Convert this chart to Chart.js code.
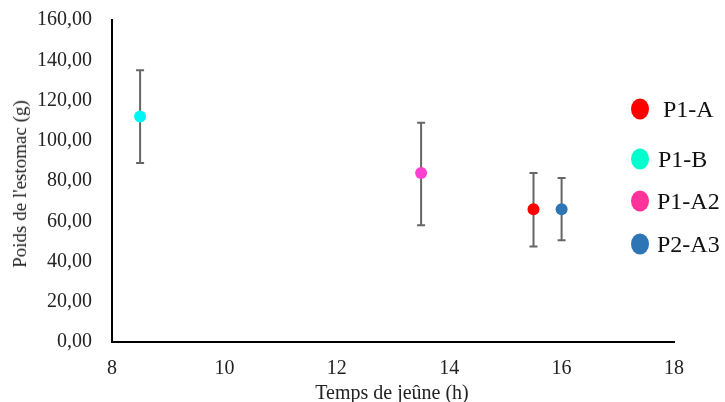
<!DOCTYPE html>
<html>
<head>
<meta charset="utf-8">
<script src="https://cdn.jsdelivr.net/npm/chart.js@4.4.1/dist/chart.umd.min.js"></script>
<style>
  html, body { margin: 0; padding: 0; background: #fff; }
  #wrap { position: relative; width: 725px; height: 402px; }
  .axtitle { position: absolute; font-family: "Liberation Serif", serif; color: #222; white-space: nowrap; }
</style>
</head>
<body>
<div id="wrap">
  <canvas id="c" width="725" height="402"></canvas>
  <div class="axtitle" id="ytitle" style="font-size:19px; left:20px; top:184px; transform: translate(-50%, -50%) rotate(-90deg);">Poids de l'estomac (g)</div>
  <div class="axtitle" id="xtitle" style="font-size:20px; left:392px; top:392px; transform: translate(-50%, -50%);">Temps de jeûne (h)</div>
</div>
<script>
// Données
const series = ["P1-A", "P1-B", "P1-A2", "P2-A3"];
const fastingHours = [15.5, 8.5, 13.5, 16];
const stomachWeight = [66, 112, 84, 66];
const errLow = [47.5, 89, 58, 50.5];
const errHigh = [84, 135, 109, 81.5];

const pointColors = ["#ff0000", "#00f5f5", "#ff3fd0", "#2e75b6"];
const legendColors = ["#ff0000", "#00ffcc", "#ff3399", "#2e75b6"];

Chart.defaults.font.family = "'Liberation Serif', serif";
Chart.defaults.color = "#222";

// Barres d'erreur, dessinées sous les points
const errorBars = {
    id: "errorBars",
    beforeDatasetsDraw(chart) {
        const { ctx, scales: { x, y } } = chart;
        ctx.save();
        ctx.strokeStyle = "#666";
        ctx.lineWidth = 2;
        series.forEach((s, i) => {
            const px = x.getPixelForValue(fastingHours[i]);
            const top = y.getPixelForValue(errHigh[i]);
            const bot = y.getPixelForValue(errLow[i]);
            ctx.beginPath();
            ctx.moveTo(px, top);
            ctx.lineTo(px, bot);
            ctx.moveTo(px - 4, top);
            ctx.lineTo(px + 4, top);
            ctx.moveTo(px - 4, bot);
            ctx.lineTo(px + 4, bot);
            ctx.stroke();
        });
        ctx.restore();
    },
};

// Légende à droite avec des marqueurs ovales
const sideLegend = {
    id: "sideLegend",
    afterDraw(chart) {
        const ctx = chart.ctx;
        const rows = [109, 159, 201, 244];
        const textX = [663, 658, 657, 657];
        ctx.save();
        ctx.font = "24px 'Liberation Serif', serif";
        ctx.textBaseline = "middle";
        series.forEach((s, i) => {
            ctx.fillStyle = legendColors[i];
            ctx.beginPath();
            ctx.ellipse(640, rows[i], 9, 10.5, 0, 0, Math.PI * 2);
            ctx.fill();
            ctx.fillStyle = "#111";
            ctx.fillText(s, textX[i], rows[i] + 2);
        });
        ctx.restore();
    },
};

new Chart(document.getElementById("c").getContext("2d"), {
    type: "scatter",
    data: {
        datasets: series.map((s, i) => ({
            label: s,
            data: [{ x: fastingHours[i], y: stomachWeight[i] }],
            backgroundColor: pointColors[i],
            borderColor: pointColors[i],
            pointRadius: 6,
            pointBorderWidth: 0,
        })),
    },
    options: {
        responsive: false,
        animation: false,
        layout: { padding: { top: 20, right: 51, left: 0, bottom: 0 } },
        plugins: {
            legend: { display: false },
            tooltip: { enabled: false },
        },
        scales: {
            x: {
                min: 8,
                max: 18,
                grid: { display: false },
                border: { display: true, color: "#000", width: 2 },
                ticks: { stepSize: 2, padding: 7, font: { size: 20 }, color: "#222" },
                afterFit(scale) {
                    scale.height = 60;
                    scale.paddingLeft = 0;
                    scale.paddingRight = 0;
                },
            },
            y: {
                min: 0,
                max: 160,
                grid: { display: false },
                border: { display: true, color: "#000", width: 2 },
                ticks: {
                    stepSize: 20,
                    padding: 12,
                    font: { size: 20 },
                    color: "#222",
                    callback: v => v.toFixed(2).replace(".", ","),
                },
                afterFit(scale) {
                    scale.width = 112;
                    scale.paddingTop = 0;
                    scale.paddingBottom = 0;
                },
            },
        },
    },
    plugins: [errorBars, sideLegend],
});
</script>
</body>
</html>
